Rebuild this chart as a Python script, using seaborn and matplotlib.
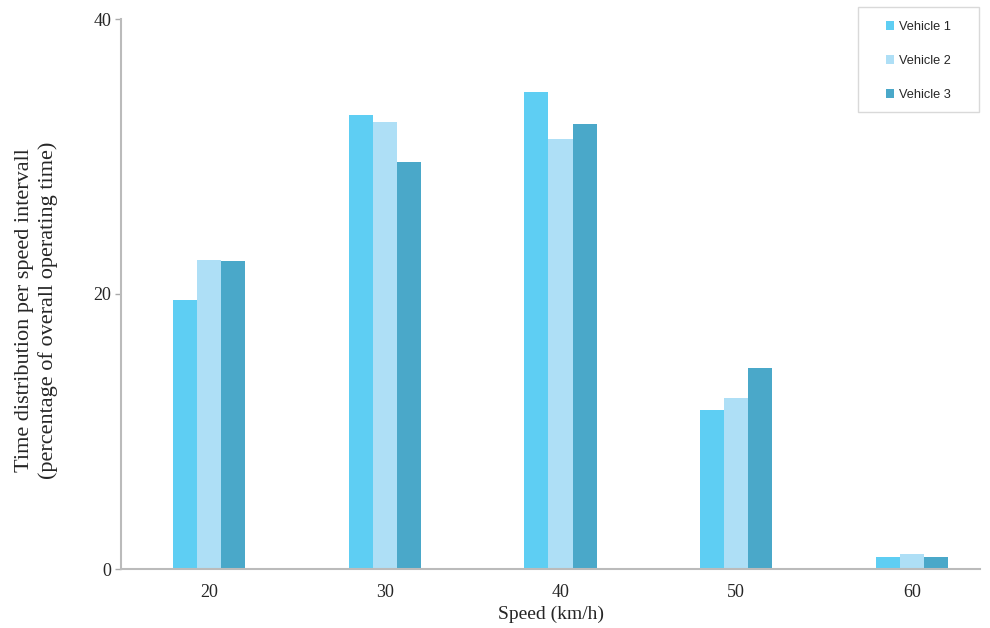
import matplotlib
matplotlib.use("Agg")
import matplotlib.pyplot as plt
import seaborn as sns
import pandas as pd
from matplotlib.patches import Patch, Rectangle

speeds = ["20", "30", "40", "50", "60"]
vehicles = ["Vehicle 1", "Vehicle 2", "Vehicle 3"]
vehicle1 = [19.6, 33.0, 34.7, 11.6, 0.9]
vehicle2 = [22.5, 32.5, 31.3, 12.45, 1.1]
vehicle3 = [22.4, 29.6, 32.4, 14.65, 0.9]
colors = ["#5ECEF3", "#AEDFF6", "#4AA8C9"]

rows = []
for v, vals in zip(vehicles, [vehicle1, vehicle2, vehicle3]):
    for s, val in zip(speeds, vals):
        rows.append({"Speed": s, "Vehicle": v, "Value": val})
df = pd.DataFrame(rows)

sns.set_theme(style="white")
plt.rcParams["font.family"] = ["Liberation Serif", "DejaVu Serif"]

fig = plt.figure(figsize=(9.9, 6.28), dpi=100)
ax = fig.add_axes([121/990, 1-569/628, (980-121)/990, (569-19)/628])

sns.barplot(data=df, x="Speed", y="Value", hue="Vehicle", order=speeds,
            hue_order=vehicles, palette=colors, width=0.41, saturation=1,
            linewidth=0, ax=ax, legend=False)

ax.set_xlim(-0.5, 4.5 - 20/176)
ax.set_ylim(0, 40)
ax.set_yticks([0, 20, 40])
ax.set_yticklabels(["0", "20", "40"], fontsize=13)
ax.set_xticks(range(5))
ax.set_xticklabels(speeds, fontsize=13)
ax.set_xticks([0.5, 1.5, 2.5, 3.5], minor=True)
ax.tick_params(axis="x", which="major", length=0, pad=10.5)
ax.tick_params(axis="x", which="minor", direction="in", length=4, color="#AAAAAA", width=1)
ax.tick_params(axis="y", which="major", direction="out", length=4, color="#AAAAAA", width=1, left=True, pad=3)

for s in ["top", "right"]:
    ax.spines[s].set_visible(False)
for s in ["left", "bottom"]:
    ax.spines[s].set_color("#BBBBBB")
    ax.spines[s].set_linewidth(1.5)

ax.set_xlabel("Speed (km/h)", fontsize=14, labelpad=4)
ax.set_ylabel("Time distribution per speed intervall\n(percentage of overall operating time)",
              fontsize=16, linespacing=1.25)
ax.yaxis.set_label_coords((58-121)/859, 0.5 - 16/550)

# legend frame box
fig.patches.append(Rectangle((858/990, 1-112/628), 121/990, 105/628,
                             transform=fig.transFigure, facecolor="white",
                             edgecolor="#D9D9D9", linewidth=1, zorder=3))

handles = [Patch(facecolor=c, edgecolor="none", label=v) for c, v in zip(colors, vehicles)]
leg = fig.legend(handles=handles, loc="upper left", bbox_to_anchor=(886/990, 1-21/628),
                 prop={"family": "Liberation Sans", "size": 9.2},
                 frameon=False, handlelength=0.65, handleheight=0.65,
                 handletextpad=0.4, labelspacing=1.72, borderpad=0, borderaxespad=0)
leg.set_zorder(4)

fig.savefig("out.png", dpi=100)
